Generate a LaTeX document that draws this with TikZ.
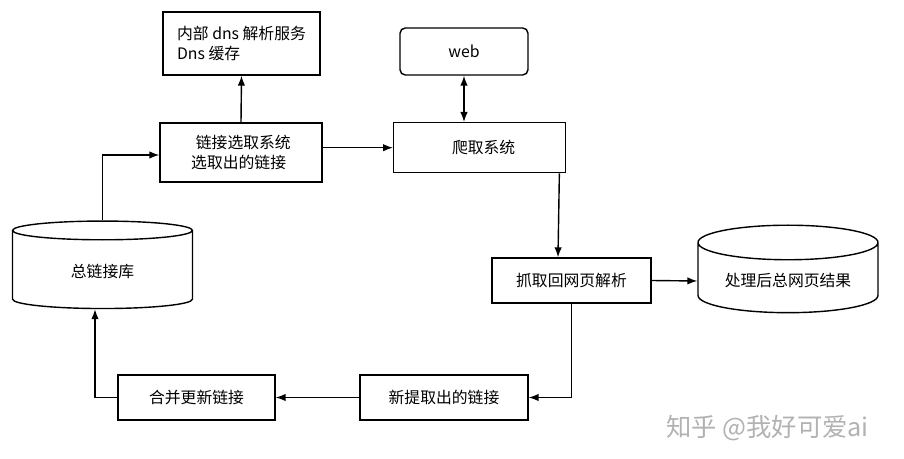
\documentclass[tikz,border=0pt]{standalone}
\usepackage{fontspec}
\setmainfont{Noto Sans CJK SC}
\usetikzlibrary{shapes.geometric,arrows.meta}
\tikzset{
  box/.style={draw,thick,minimum width=#1,align=left,font=\small},
  db/.style={draw,thick,cylinder,shape border rotate=90,aspect=0.25,minimum width=3.6cm,minimum height=1.75cm,font=\small},
  link/.style={thick,-{Latex[length=2mm]}},
}
\begin{document}
\begin{tikzpicture}[x=0.02cm,y=-0.02cm]
  \useasboundingbox (0,0) rectangle (904,459);
  % boxes
  \node[box=3.14cm,minimum height=1.26cm] (dns) at (241.5,43.5) {内部 dns 解析服务\\Dns 缓存};
  \node[box=3.24cm,minimum height=1.18cm] (sel) at (241,152.5) {\hspace{0.3em}链接选取系统\\选取出的链接};
  \node[box=2.56cm,minimum height=0.94cm,rounded corners=3pt] (web) at (464,51.5) {web};
  \node[box=3.44cm,minimum height=1cm,anchor=north west] (crawl) at (393,122) {\hspace{0.5em}爬取系统};
  \node[db] (all) at (102.5,271.5) {总链接库};
  \node[box=3.18cm,minimum height=0.9cm] (parse) at (571.5,280.5) {抓取回网页解析};
  \node[db] (res) at (788,281) {处理后总网页结果};
  \node[box=3.36cm,minimum height=0.9cm] (new) at (444,397.5) {新提取出的链接};
  \node[box=3.14cm,minimum height=0.9cm] (merge) at (196.5,397.5) {合并更新链接};
  \node[text=gray!60,font=\Large,anchor=west] (mark) at (660,428) {知乎 @我好可爱ai};
  % connectors
  \draw[link] (sel.north) -- (dns.south);
  \draw[link] (sel.east |- crawl.west) -- (crawl.west);
  \draw[thick,{Latex[length=2mm]}-{Latex[length=2mm]}] (web.south) -- (web.south |- crawl.north);
  \draw[link] (crawl.south east) ++(-7,0) -- (parse.north -| 558,0);
  \draw[link] (parse.east) -- (res.west);
  \draw[link] (parse.south) ++(0,0) |- (new.east);
  \draw[link] (new.west) -- (merge.east);
  \draw[link] (merge.west) -| (all.bottom -| 95,0);
  \draw[link] (all.top) |- (sel.west |- 0,155);
\end{tikzpicture}
\end{document}
